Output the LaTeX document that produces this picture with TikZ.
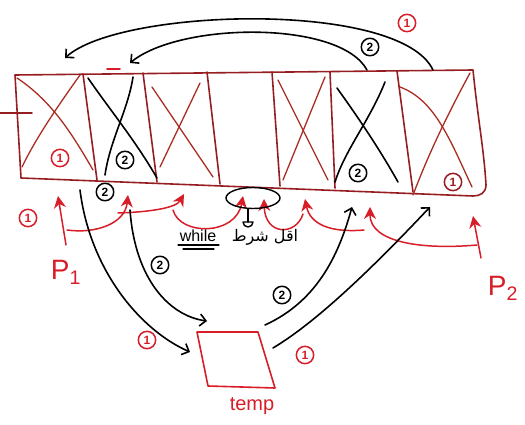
\documentclass[tikz,border=0pt]{standalone}
\usepackage{fontspec}
\setmainfont{Liberation Sans}
\newfontfamily\arabicfont[Script=Arabic]{DejaVu Sans}
\TeXXeTstate=1
\usetikzlibrary{arrows.meta,shapes.geometric}
\definecolor{frame}{RGB}{150,30,35}
\definecolor{redx}{RGB}{170,45,35}
\definecolor{pen}{RGB}{215,30,40}
\begin{document}
\begin{tikzpicture}[x=1pt,y=-1pt,line cap=round,line join=round,
  framel/.style={draw=frame,line width=1.6pt},
  xred/.style={draw=redx,line width=1.3pt},
  xblack/.style={draw=black,line width=1.6pt},
  redarrow/.style={draw=pen,line width=1.5pt,-{Stealth[length=12pt,width=12pt]}},
  blackarrow/.style={draw=black,line width=1.6pt,-{Straight Barb[length=6pt,width=12pt,line width=1.6pt]}},
  circ/.style={circle,line width=1.5pt,inner sep=2.4pt,font=\fontsize{12}{12}\selectfont\bfseries},
  circred/.style={circ,draw=pen,text=pen},
  circblack/.style={circ,draw=black,text=black},
  circdark/.style={circ,draw=frame,text=frame},
  redlabel/.style={text=pen,font=\fontsize{28}{28}\selectfont}]
\useasboundingbox (0,0) rectangle (525,425);
% array frame
\coordinate (tl) at (15,75);
\coordinate (tr) at (473,70);
\coordinate (br) at (486,194);
\coordinate (bl) at (21,178);
\draw[framel] (tl) -- (tr) .. controls (478,120) and (484,150) .. (486,185) .. controls (486,193) and (480,196) .. (473,196) -- (bl) -- cycle;
% dividers
\draw[framel] (83,74) -- (97,180);
\draw[framel] (143,73) -- (157,182);
\draw[framel] (207,72) -- (220,184);
\draw[framel] (272,72) -- (280,186);
\draw[framel] (330,72) -- (335,188);
\draw[framel] (397,71) -- (413,192);
% left tick and small mark
\draw[framel] (0,113) -- (32,113);
\draw[draw=pen,line width=1.6pt] (107,69) -- (120,69);
% crosses
\draw[xred] (17,78) .. controls (50,100) and (70,130) .. (93,170);
\draw[xred] (80,75) .. controls (55,110) and (35,140) .. (22,167);
\draw[xblack] (88,78) .. controls (110,110) and (135,140) .. (157,178);
\draw[xblack] (133,77) .. controls (128,110) and (110,140) .. (105,175);
\draw[xred] (152,87) -- (213,177);
\draw[xred] (200,83) -- (160,167);
\draw[xred] (278,80) -- (328,180);
\draw[xred] (325,77) -- (283,180);
\draw[xblack] (337,88) .. controls (360,120) and (380,150) .. (398,182);
\draw[xblack] (385,82) .. controls (370,120) and (345,150) .. (335,182);
\draw[xred] (400,87) .. controls (435,100) and (450,140) .. (472,187);
\draw[xred] (470,73) .. controls (450,110) and (430,150) .. (413,195);
% cell labels
\node[circred] (c1) at (60,158) {1};
\node[circblack] (c2) at (125,160) {2};
\node[circblack] (c6) at (358,173) {2};
\node[circdark] (c7) at (453,182) {1};
% top arcs
\coordinate (t1s) at (433,70);
\coordinate (t1e) at (65,58);
\coordinate (t2s) at (367,70);
\coordinate (t2e) at (130,63);
\draw[blackarrow] (t1s) .. controls (400,0) and (120,8) .. (t1e);
\draw[blackarrow] (t2s) .. controls (340,20) and (180,22) .. (t2e);
\node[circred] (ta) at (407,23) {1};
\node[circblack] (tb) at (370,47) {2};
% pointer p1 chain
\coordinate (p1b) at (66,245);
\coordinate (p1t) at (58,196);
\draw[redarrow] (p1b) -- (p1t);
\coordinate (a1s) at (67,230);
\coordinate (a1e) at (128,195);
\draw[redarrow] (a1s) .. controls (95,234) and (125,224) .. (a1e);
\coordinate (a2s) at (118,213);
\coordinate (a2e) at (184,194);
\draw[redarrow] (a2s) .. controls (150,212) and (176,208) .. (a2e);
\coordinate (a3s) at (173,210);
\coordinate (a3e) at (243,196);
\draw[redarrow] (a3s) .. controls (180,236) and (236,236) .. (a3e);
% pointer p2 chain
\coordinate (p2b) at (481,258);
\coordinate (p2t) at (473,216);
\draw[redarrow] (p2b) -- (p2t);
\coordinate (b1s) at (477,245);
\coordinate (b1e) at (370,207);
\draw[redarrow] (b1s) .. controls (420,250) and (370,242) .. (b1e);
\coordinate (b2s) at (364,230);
\coordinate (b2e) at (305,199);
\draw[redarrow] (b2s) .. controls (330,233) and (310,224) .. (b2e);
\coordinate (b3s) at (303,214);
\coordinate (b3e) at (264,199);
\draw[redarrow] (b3s) .. controls (296,236) and (265,236) .. (b3e);
% meeting ellipse
\node[draw=black,line width=1.4pt,ellipse,minimum width=54pt,minimum height=21pt,inner sep=0pt] (meet) at (253,198) {};
\draw[black,line width=1.4pt] (248,209) -- (248,222);
\draw[black,line width=1.4pt] (243,222) -- (253,222) arc[start angle=0,end angle=180,x radius=5pt,y radius=-5pt];
% while text
\node[font=\fontsize{16}{16}\selectfont] (wh) at (198,236) {while};
\draw[black,line width=1.1pt] (178,245) -- (219,245);
\draw[black,line width=1.1pt] (183,249) -- (214,249);
\node[font=\arabicfont\fontsize{16}{16}\selectfont] (ar) at (265,237) {\beginR اقل شرط\endR};
\node[circred] (r1) at (28,218) {1};
\node[circblack] (r2) at (105,192) {2};
% labels P1 P2
\node[redlabel] (P1) at (66,272) {P\textsubscript{1}};
\node[redlabel] (P2) at (503,288) {P\textsubscript{2}};
% temp box
\coordinate (q1) at (197,332);
\coordinate (q2) at (258,332);
\coordinate (q3) at (275,388);
\coordinate (q4) at (208,386);
\draw[framel,draw=pen] (q1) -- (q2) -- (q3) -- (q4) -- cycle;
\node[text=pen,font=\fontsize{20}{20}\selectfont] (temp) at (252,406) {temp};
% arrows to and from temp
\coordinate (s1) at (80,190);
\coordinate (e1) at (190,352);
\draw[blackarrow] (s1) .. controls (90,270) and (140,330) .. (e1);
\coordinate (s2) at (130,210);
\coordinate (e2) at (207,321);
\draw[blackarrow] (s2) .. controls (135,280) and (170,316) .. (e2);
\coordinate (s3) at (265,325);
\coordinate (e3) at (352,207);
\draw[blackarrow] (s3) .. controls (320,300) and (340,250) .. (e3);
\coordinate (s4) at (273,348);
\coordinate (e4) at (430,207);
\draw[blackarrow] (s4) .. controls (320,320) and (380,260) .. (e4);
\node[circblack] (m2) at (160,265) {2};
\node[circred] (m1) at (147,340) {1};
\node[circblack] (n2) at (282,295) {2};
\node[circred] (n1) at (305,355) {1};
\end{tikzpicture}
\end{document}
